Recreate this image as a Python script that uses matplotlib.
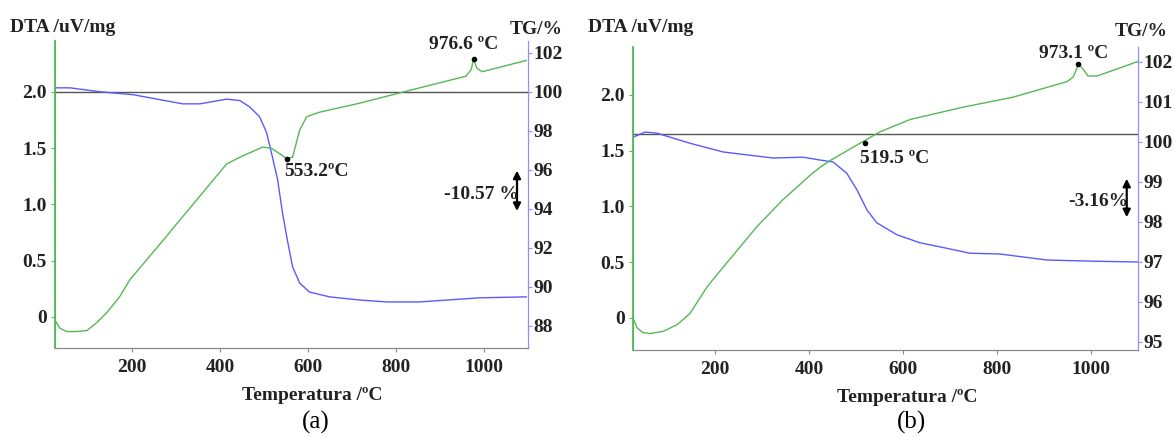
import matplotlib.pyplot as plt

# ---- panel (a) data ----
a_dta_t = [25, 36, 52, 75, 98, 120, 143, 172, 195, 279, 302, 347, 415, 445, 497, 517,
           551, 565, 581, 597, 626, 717, 837, 959, 971, 976, 984, 996, 1096]
a_dta = [-0.03, -0.10, -0.13, -0.13, -0.12, -0.05, 0.04, 0.18, 0.33, 0.72, 0.83, 1.04, 1.36,
         1.42, 1.51, 1.50, 1.41, 1.42, 1.66, 1.78, 1.82, 1.90, 2.02, 2.14, 2.20, 2.29, 2.21,
         2.18, 2.28]
a_tg_t = [25, 59, 127, 202, 315, 354, 415, 445, 467, 490, 506, 519, 531, 542, 553, 565,
          581, 603, 649, 717, 778, 853, 989, 1096]
a_tg = [100.2, 100.2, 100.0, 99.85, 99.38, 99.38, 99.62, 99.55, 99.23, 98.72, 97.9, 96.67,
        95.49, 93.8, 92.41, 91.03, 90.2, 89.74, 89.49, 89.33, 89.23, 89.23, 89.44, 89.49]

# ---- panel (b) data ----
b_dta_t = [25, 34, 46, 61, 89, 119, 146, 183, 200, 289, 344, 402, 423, 444, 493, 551,
           615, 727, 834, 949, 962, 974, 994, 1013, 1100]
b_dta = [0.0, -0.09, -0.13, -0.14, -0.12, -0.06, 0.04, 0.28, 0.37, 0.82, 1.06, 1.28, 1.35,
         1.41, 1.53, 1.67, 1.78, 1.89, 1.98, 2.12, 2.16, 2.28, 2.17, 2.17, 2.30]
b_tg_t = [25, 51, 76, 146, 217, 323, 387, 423, 451, 480, 502, 523, 544, 587, 636, 678,
          742, 806, 906, 1004, 1100]
b_tg = [100.12, 100.25, 100.22, 99.97, 99.75, 99.6, 99.62, 99.55, 99.5, 99.22, 98.8, 98.3,
        97.98, 97.68, 97.48, 97.38, 97.22, 97.2, 97.05, 97.02, 97.0]

x_ticks = [200, 400, 600, 800, 1000]
dta_ticks = [0, 0.5, 1.0, 1.5, 2.0]
dta_labels = ["0", "0.5", "1.0", "1.5", "2.0"]
a_tg_ticks = [88, 90, 92, 94, 96, 98, 100, 102]
b_tg_ticks = [95, 96, 97, 98, 99, 100, 101, 102]

GREEN = "#55b855"
BLUE = "#5a5aff"
SERIF = "Liberation Serif"

W, H = 1175, 437
fig = plt.figure(figsize=(W / 100, H / 100), dpi=100)


def frac(px, py):
    return px / W, 1 - py / H


def panel(rect, dta_t, dta, tg_t, tg, dta_lim, tg_lim, tg_ticks, base):
    ax = fig.add_axes(rect)
    ax2 = ax.twinx()
    ax.set_xlim(25, 1100)
    ax.set_ylim(*dta_lim)
    ax2.set_ylim(*tg_lim)
    ax2.axhline(base, color="#555555", lw=1.0)
    ax.plot(dta_t, dta, color=GREEN, lw=1.0)
    ax2.plot(tg_t, tg, color=BLUE, lw=1.0)
    ax.set_zorder(ax2.get_zorder() + 1)
    ax.patch.set_visible(False)
    for a in (ax, ax2):
        a.spines["top"].set_visible(False)
        a.spines["left"].set_color(GREEN)
        a.spines["right"].set_color("#8f8fff")
        a.spines["bottom"].set_color("#888888")
    ax.spines["left"].set_linewidth(1.3)
    ax.set_xticks(x_ticks)
    ax.set_yticks(dta_ticks)
    ax.set_yticklabels(dta_labels)
    ax2.set_yticks(tg_ticks)
    ax.tick_params(axis="y", colors=GREEN, length=3, pad=3)
    ax.tick_params(axis="x", colors="#888888", length=3, pad=5)
    ax2.tick_params(axis="y", colors="#8f8fff", length=3, pad=1)
    for lab in ax.get_xticklabels() + ax.get_yticklabels() + ax2.get_yticklabels():
        lab.set_fontfamily(SERIF)
        lab.set_fontweight("bold")
        lab.set_fontsize(14)
        lab.set_color("#222222")
    return ax, ax2


txt = dict(family=SERIF, weight="bold", fontsize=14, color="#222222")

# ---- (a) ----
axa, axa2 = panel([55 / W, 1 - 348 / H, 473 / W, 307 / H], a_dta_t, a_dta, a_tg_t, a_tg,
                  (-0.276, 2.453), (86.87, 102.6), a_tg_ticks, 100.0)
axa.plot([553.2], [1.40], "o", color="black", ms=3)
axa.text(547, 1.29, "553.2ºC", ha="left", va="center", **txt)
axa.plot([976.6], [2.29], "o", color="black", ms=3)
axa.text(953, 2.42, "976.6 ºC", ha="center", va="center", **txt)
axa2.annotate("", xy=(1075, 93.75), xytext=(1075, 96.1),
              arrowprops=dict(arrowstyle="<|-|>", color="black", lw=1.6, mutation_scale=11))
axa2.text(1079, 94.75, "-10.57 %", ha="right", va="center", **txt)

# ---- (b) ----
axb, axb2 = panel([633 / W, 1 - 350 / H, 505 / W, 303 / H], b_dta_t, b_dta, b_tg_t, b_tg,
                  (-0.287, 2.43), (94.8, 102.375), b_tg_ticks, 100.2)
axb.plot([519.5], [1.57], "o", color="black", ms=3)
axb.text(508, 1.43, "519.5 ºC", ha="left", va="center", **txt)
axb.plot([973.1], [2.28], "o", color="black", ms=3)
axb.text(964, 2.37, "973.1 ºC", ha="center", va="center", **txt)
axb2.annotate("", xy=(1076, 98.05), xytext=(1076, 99.15),
              arrowprops=dict(arrowstyle="<|-|>", color="black", lw=1.6, mutation_scale=11))
axb2.text(1080, 98.5, "-3.16%", ha="right", va="center", **txt)

# ---- axis titles ----
fig.text(*frac(10, 27), "DTA /uV/mg", ha="left", va="center", **txt)
fig.text(*frac(588, 27), "DTA /uV/mg", ha="left", va="center", **txt)
fig.text(*frac(536, 30), "TG/%", ha="center", va="center", **txt)
fig.text(*frac(1141, 31), "TG/%", ha="center", va="center", **txt)
fig.text(*frac(312, 395), "Temperatura /ºC", ha="center", va="center", **txt)
fig.text(*frac(907, 397), "Temperatura /ºC", ha="center", va="center", **txt)
fig.text(*frac(316, 422), "(a)", ha="center", va="center", family=SERIF, fontsize=18)
fig.text(*frac(912, 422), "(b)", ha="center", va="center", family=SERIF, fontsize=18)

fig.savefig("out.png", dpi=100)
